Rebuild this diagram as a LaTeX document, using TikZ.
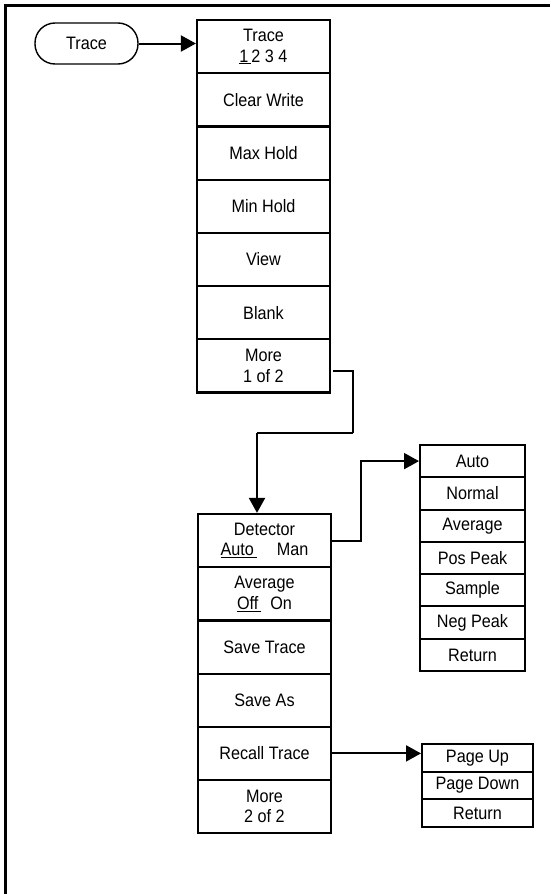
\documentclass[tikz,border=0pt]{standalone}
\usepackage{fontspec}
\setmainfont{Liberation Sans}[FakeStretch=0.9]
\usetikzlibrary{arrows.meta}
\begin{document}
\begin{tikzpicture}[x=1pt,y=-1pt,
  every node/.style={font=\fontsize{18}{20.5}\selectfont},
  menubox/.style={draw, line width=2.2pt, minimum width=133pt, minimum height=53.2pt, inner sep=0pt, align=center},
  subbox/.style={draw, line width=2pt, minimum width=105pt, minimum height=32.3pt, inner sep=0pt, align=center},
  pagebox/.style={draw, line width=2pt, minimum width=111pt, minimum height=27.7pt, inner sep=0pt, align=center},
  keybox/.style={draw, line width=1.4pt, rounded corners=20pt, minimum width=103pt, minimum height=41pt, inner sep=0pt},
  conn/.style={line width=2pt},
  thinconn/.style={line width=1.2pt},
  arr/.style={-{Triangle[length=15pt,width=16pt]}}
]
\useasboundingbox (0,0) rectangle (550,894);
% frame (left and top only)
\draw[line width=3pt] (5.5,894) -- (5.5,5.5) -- (550,5.5);

% hard key
\node[keybox] (key) at (86.5,43.5) {Trace};

% menu 1
\node[menubox] (m1a) at (263.5,46.6) {Trace\\\underline{1\,}2 3 4};
\node[menubox] (m1b) at (263.5,99.8) {Clear Write};
\node[menubox] (m1c) at (263.5,153) {Max Hold};
\node[menubox] (m1d) at (263.5,206.2) {Min Hold};
\node[menubox] (m1e) at (263.5,259.4) {View};
\node[menubox] (m1f) at (263.5,312.6) {Blank};
\node[menubox] (m1g) at (263.5,365.8) {More\\1 of 2};

% menu 2
\node[menubox] (m2a) at (264.5,540.6) {Detector\\\underline{Auto\,}\hspace{1.1em}Man};
\node[menubox] (m2b) at (264.5,593.8) {Average\\\underline{Off\,}\hspace{0.5em}On};
\node[menubox] (m2c) at (264.5,647) {Save Trace};
\node[menubox] (m2d) at (264.5,700.2) {Save As};
\node[menubox] (m2e) at (264.5,753.4) {Recall Trace};
\node[menubox] (m2f) at (264.5,806.6) {More\\2 of 2};

% detector submenu
\node[subbox] (s1a) at (472.5,461.1) {Auto};
\node[subbox] (s1b) at (472.5,493.4) {Normal};
\node[subbox] (s1c) at (472.5,525.7) {Average};
\node[subbox] (s1d) at (472.5,558) {Pos Peak};
\node[subbox] (s1e) at (472.5,590.3) {Sample};
\node[subbox] (s1f) at (472.5,622.6) {Neg Peak};
\node[subbox] (s1g) at (472.5,654.9) {Return};

% recall submenu
\node[pagebox] (s2a) at (477.5,757.8) {Page Up};
\node[pagebox] (s2b) at (477.5,785.5) {Page Down};
\node[pagebox] (s2c) at (477.5,813.2) {Return};

% connectors
\draw[conn,arr] (key.east) -- (key.east -| m1a.west);

\coordinate (k1) at (353,371);
\coordinate (k2) at (353,433);
\coordinate (k3) at (257,433);
\draw[thinconn] ([xshift=1.5pt]m1g.east |- k1) -- (k1) -- (k2);
\draw[conn] (k2) -- (k3);
\draw[conn,arr] (k3) -- (k3 |- m2a.north);

\draw[conn,arr] (m2a.east) -- ++(29,0) |- (s1a.west);
\draw[conn,arr] (m2e.east) -- (m2e.east -| s2a.west);
\end{tikzpicture}
\end{document}
